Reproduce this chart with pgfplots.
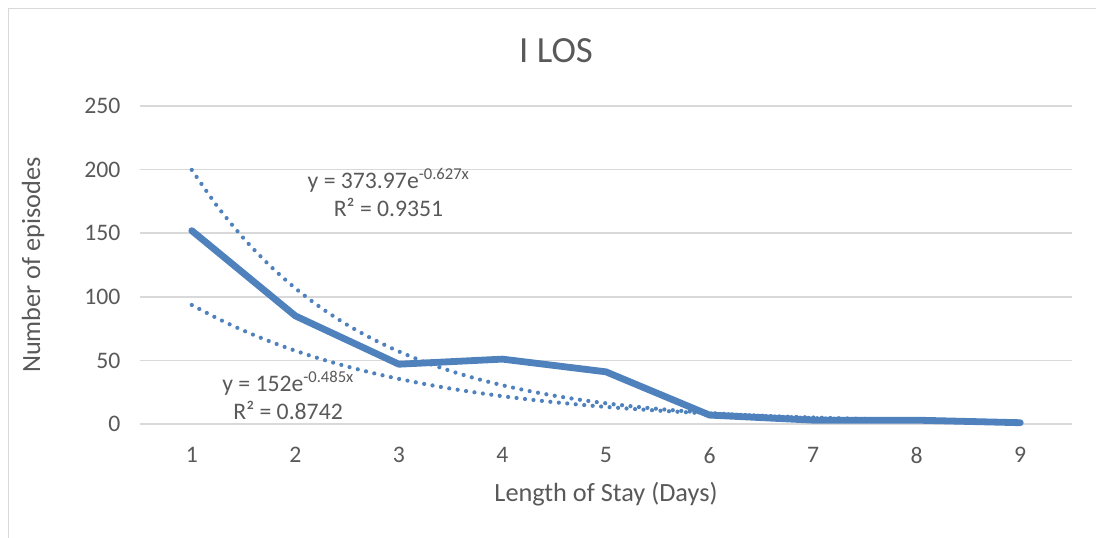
\documentclass[border=0pt]{standalone}
\usepackage{fontspec}
\setmainfont{Carlito}
\usepackage{pgfplots}
\pgfplotsset{compat=1.18}
\definecolor{lineblue}{HTML}{4F81BD}
\definecolor{gridgray}{HTML}{D9D9D9}
\definecolor{txtgray}{HTML}{595959}

\begin{document}
\begin{tikzpicture}[x=1pt,y=1pt]
% chart area border (cropped at right and bottom)
\draw[gridgray, line width=1.5pt] (8.5,0) -- (8.5,529.5) -- (1096,529.5);
% title
\node[txtgray, font=\fontsize{36.9}{40}\selectfont] at (556,487) {I LOS};

\begin{axis}[
    at={(140pt,114pt)}, anchor=south west,
    scale only axis,
    width=932pt, height=318pt,
    xmin=0.5, xmax=9.5,
    ymin=0, ymax=250,
    xtick={1,...,9},
    ytick={0,50,...,250},
    ymajorgrids,
    grid style={gridgray, line width=1.5pt},
    axis line style={draw=none},
    major tick length=0,
    tick label style={txtgray, font=\fontsize{23.7}{28}\selectfont},
    /pgf/number format/assume math mode=true,
    yticklabel style={xshift=-16pt},
    xticklabel style={yshift=-20pt},
    xlabel={Length of Stay (Days)},
    ylabel={Number of episodes},
    label style={txtgray, font=\fontsize{26.3}{30}\selectfont},
    xlabel style={at={(axis description cs:0.5,0)}, anchor=center, yshift=-70pt},
    ylabel style={at={(axis description cs:-0.1148,0.5)}, anchor=center},
    clip=false,
]
% exponential trendline y = 373.97 e^{-0.627x}
\addplot[lineblue, line width=4.2pt, line cap=round, dash pattern=on 0pt off 8.5pt, smooth]
coordinates {
(1,199.77)(1.25,170.79)(1.5,146.01)(1.75,124.83)(2,106.72)(2.25,91.24)
(2.5,78.00)(2.75,66.68)(3,57.01)(3.25,48.74)(3.5,41.67)(3.75,35.62)
(4,30.45)(4.25,26.04)(4.5,22.26)(4.75,19.03)(5,16.27)(5.25,13.91)
(5.5,11.89)(5.75,10.17)(6,8.69)(6.25,7.43)(6.5,6.35)(6.75,5.43)
(7,4.64)(7.5,3.39)(8,2.48)(8.5,1.81)(9,1.32)
};
% exponential trendline y = 152 e^{-0.485x}
\addplot[lineblue, line width=4.2pt, line cap=round, dash pattern=on 0pt off 8.5pt, smooth]
coordinates {
(1,93.59)(1.25,82.90)(1.5,73.44)(1.75,65.05)(2,57.62)(2.25,51.04)
(2.5,45.22)(2.75,40.05)(3,35.48)(3.25,31.43)(3.5,27.84)(3.75,24.66)
(4,21.85)(4.25,19.35)(4.5,17.14)(4.75,15.18)(5,13.45)(5.25,11.91)
(5.5,10.55)(5.75,9.35)(6,8.28)(6.5,6.50)(7,5.10)(7.5,4.00)
(8,3.14)(8.5,2.46)(9,1.93)
};
% data
\addplot[lineblue, line width=6.8pt, line join=round, line cap=round]
coordinates {
(1,152)(2,85)(3,47)(4,51)(5,41)(6,7)(7,3)(8,3)(9,1)
};
% trendline labels
\node[txtgray, font=\fontsize{23.7}{28}\selectfont, align=center] at (axis cs:2.9,182)
  {y = 373.97e\textsuperscript{-0.627x}\\R² = 0.9351};
\node[txtgray, font=\fontsize{23.7}{28}\selectfont, align=center] at (axis cs:1.93,22.8)
  {y = 152e\textsuperscript{-0.485x}\\R² = 0.8742};
\end{axis}
\pgfresetboundingbox
\path[use as bounding box] (0,0) rectangle (1096,538);
\end{tikzpicture}
\end{document}
